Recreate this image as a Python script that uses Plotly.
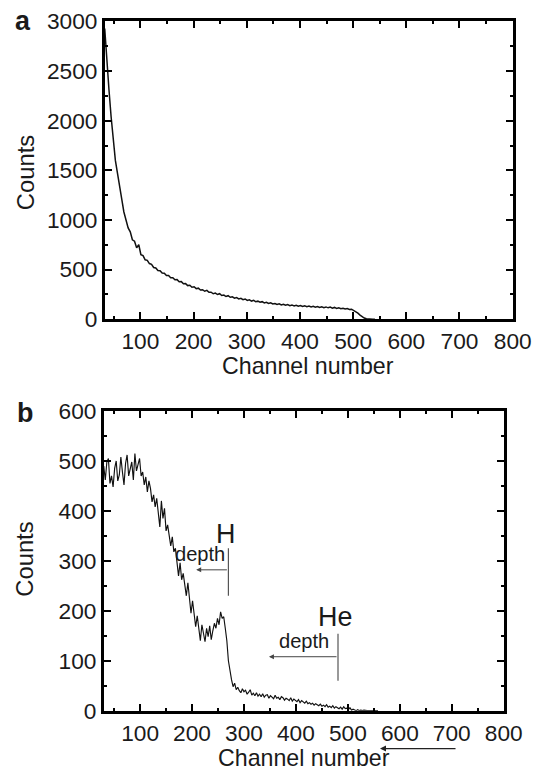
import plotly.graph_objects as go

# ---------------- data ----------------
# panel a: spectrum, channels start at 33, step 4
top_start, top_step = 33, 4
top_counts = [
    2930, 2580, 2310, 2040, 1830, 1600, 1470, 1320, 1210, 1080,
    1010, 920, 880, 800, 785, 720, 750, 650, 640, 598,
    592, 560, 552, 520, 516, 490, 488, 465, 462, 440,
    440, 418, 418, 396, 398, 376, 378, 356, 358, 338,
    342, 322, 326, 307, 312, 294, 297, 281, 290, 270,
    272, 256, 262, 248, 256, 238, 243, 228, 236, 220,
    225, 211, 217, 204, 210, 196, 203, 188, 194, 182,
    190, 175, 181, 170, 176, 164, 170, 158, 164, 153,
    158, 148, 155, 143, 150, 140, 146, 136, 143, 133,
    140, 130, 136, 127, 134, 126, 131, 123, 129, 121,
    127, 118, 125, 116, 123, 114, 121, 111, 118, 108,
    114, 105, 110, 102, 107, 98, 100, 88, 78, 60,
    40, 24, 11, 4, 1, 0, 0, 0,
]
top_channels = [top_start + top_step * i for i in range(len(top_counts))]

# panel b: spectrum, channels start at 30, step 3
bot_start, bot_step = 30, 3
bot_counts = [
    490, 462, 498, 505, 455, 470, 448, 485, 500, 460,
    472, 508, 478, 452, 495, 512, 470, 488, 498, 462,
    515, 480, 492, 505, 470, 478, 452, 468, 438, 460,
    445, 418, 432, 408, 425, 398, 368, 420, 385, 405,
    360, 372, 345, 330, 348, 318, 325, 290, 270, 296,
    262, 275, 248, 230, 256, 225, 195, 220, 188, 168,
    190, 158, 140, 172, 150, 138, 165, 148, 170, 142,
    160, 175, 165, 185, 172, 198, 185, 188, 165, 140,
    100, 78, 62, 48, 55, 42, 47, 40, 36, 44,
    38, 41, 33, 37, 42, 31, 35, 30, 36, 29,
    33, 28, 34, 27, 31, 32, 25, 30, 27, 24,
    31, 25, 27, 22, 28, 26, 21, 25, 23, 20,
    26, 19, 23, 21, 18, 22, 16, 20, 17, 15,
    19, 14, 16, 13, 15, 11, 14, 12, 10, 13,
    9, 11, 8, 12, 7, 9, 6, 10, 5, 8,
    6, 4, 7, 3, 8, 4, 5, 2, 6, 1,
    3, 2, 0, 2, 0, 1, 0, 1, 0, 0,
    0, 0, 0, 0, 0, 0, 0,
]
bot_channels = [bot_start + bot_step * i for i in range(len(bot_counts))]

x_ticks = [100, 200, 300, 400, 500, 600, 700, 800]
top_y_ticks = [0, 500, 1000, 1500, 2000, 2500, 3000]
bot_y_ticks = [0, 100, 200, 300, 400, 500, 600]

# markers: (label, channel of edge line, label y, line bottom, line top, arrow y, arrow tip, depth x, depth y)
markers = [
    ("H", 270, 354, 230, 325, 282, 208, 216, 314),
    ("He", 481, 188, 60, 154, 108, 348, 415, 140),
]

# ---------------- figure ----------------
SCALE, OFF = 0.968, 10.5      # observed page -> picture mapping
W, H = 551, 784
FONT = "Liberation Sans, Arial, sans-serif"
TXT = "#1a1a1a"


def fx(X):
    return X / SCALE / W


def fy(Y):
    return 1 - (Y - OFF) / SCALE / H


def fs(s):
    return round(s / SCALE, 1)


fig = go.Figure()
fig.add_trace(go.Scatter(x=top_channels, y=top_counts, mode="lines",
                         line=dict(color="#111111", width=1.5),
                         xaxis="x", yaxis="y", showlegend=False))
fig.add_trace(go.Scatter(x=bot_channels, y=bot_counts, mode="lines",
                         line=dict(color="#111111", width=1.15),
                         xaxis="x2", yaxis="y2", showlegend=False))

minor_common = dict(ticks="inside", ticklen=3, tickwidth=2, tickcolor="black")
axis_common = dict(showline=True, linecolor="black", linewidth=2.6, mirror="ticks",
                   ticks="inside", ticklen=7, tickwidth=2, tickcolor="black",
                   showgrid=False, zeroline=False,
                   tickfont=dict(family=FONT, size=fs(22), color=TXT))

fig.update_layout(
    width=W, height=H, autosize=False,
    margin=dict(l=0, r=0, t=0, b=0),
    paper_bgcolor="white", plot_bgcolor="white",
    xaxis=dict(domain=[fx(105), fx(514)], anchor="y", range=[33, 800],
               tickvals=x_ticks, minor=dict(dtick=50, tick0=0, **minor_common),
               **axis_common),
    yaxis=dict(domain=[fy(317), fy(19)], anchor="x", range=[0, 3000],
               tickvals=top_y_ticks, minor=dict(dtick=250, tick0=0, **minor_common),
               **axis_common),
    xaxis2=dict(domain=[fx(104), fx(505)], anchor="y2", range=[30, 800],
                tickvals=x_ticks, minor=dict(dtick=50, tick0=0, **minor_common),
                **axis_common),
    yaxis2=dict(domain=[fy(709), fy(409)], anchor="x2", range=[0, 600],
                tickvals=bot_y_ticks, minor=dict(dtick=50, tick0=0, **minor_common),
                **axis_common),
)

ann = []
# axis titles & panel letters (picture pixel positions)
for (txt, x, y, ang, size) in [
    ("Channel number", 309, 364, 0, 22.5),
    ("Channel number", 305, 756, 0, 22.5),
    ("Counts", 25, 170, -90, 23),
    ("Counts", 25, 557, -90, 23),
    ("<b>a</b>", 23, 19, 0, 26),
    ("<b>b</b>", 25, 411, 0, 26),
]:
    ann.append(dict(text=txt, x=fx(x), y=fy(y), xref="paper", yref="paper",
                    xanchor="center", yanchor="middle", showarrow=False, textangle=ang,
                    font=dict(family=FONT, size=fs(size), color=TXT)))

# arrow below bottom axis
ann.append(dict(x=fx(381), y=fy(747), ax=round(75 / SCALE), ay=0,
                xref="paper", yref="paper", axref="pixel", ayref="pixel",
                text="", showarrow=True, arrowhead=2, arrowsize=1, arrowwidth=1.2,
                arrowcolor="#222222"))

shapes = []
for (lab, xc, ly, yb, yt, ay, tip, dx, dy) in markers:
    ann.append(dict(text=lab, x=xc - 5, y=ly, xref="x2", yref="y2", showarrow=False,
                    xanchor="center", yanchor="middle",
                    font=dict(family=FONT, size=fs(26), color=TXT)))
    ann.append(dict(text="depth", x=dx, y=dy, xref="x2", yref="y2", showarrow=False,
                    xanchor="center", yanchor="middle",
                    font=dict(family=FONT, size=fs(19.5), color=TXT)))
    ann.append(dict(x=tip, y=ay, ax=xc, ay=ay, xref="x2", yref="y2", axref="x2", ayref="y2",
                    text="", showarrow=True, arrowhead=2, arrowsize=1, arrowwidth=1,
                    arrowcolor="#444444"))
    shapes.append(dict(type="line", x0=xc, x1=xc, y0=yb, y1=yt, xref="x2", yref="y2",
                       line=dict(color="#555555", width=1.2)))

fig.update_layout(annotations=ann, shapes=shapes)
fig.write_html("out.html", config={"displayModeBar": False},
               post_script="document.body.style.margin='0';document.body.style.padding='0';")
